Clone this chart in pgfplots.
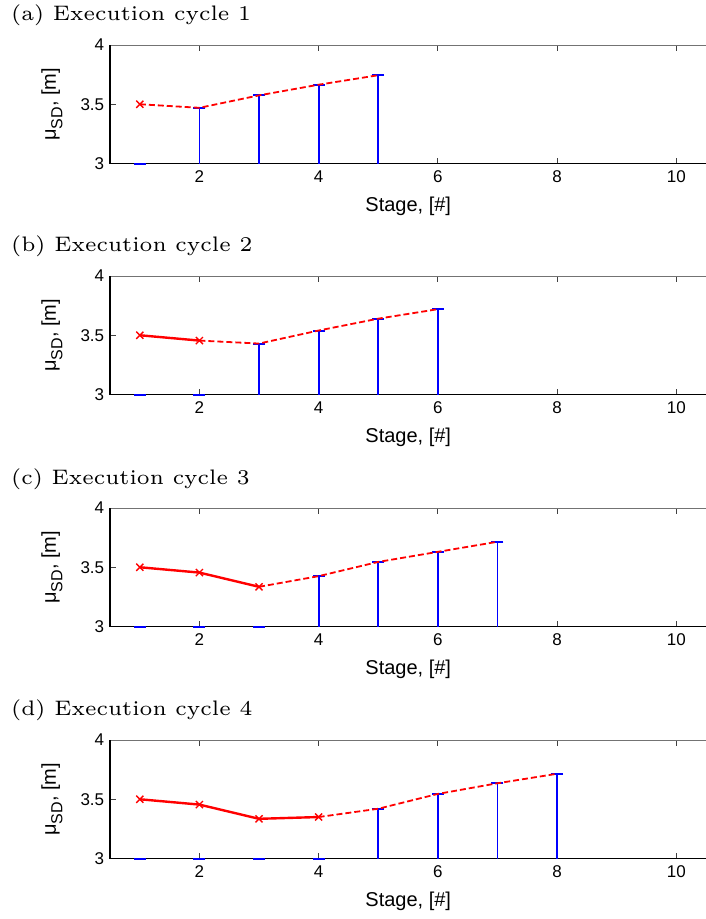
\documentclass[border=0pt]{standalone}
\usepackage{fontspec}
\usepackage{graphicx}
\usepackage{pgfplots}
\usepackage{pgfplotstable}
\pgfplotsset{compat=1.18}
\newfontfamily\hv{Liberation Sans}

% Stage values: executed stages sit at the baseline, planned ones carry the predicted mean
\pgfplotstableread{
stage mu
1 3.000
2 3.470
3 3.575
4 3.665
5 3.745
}\stemA
\pgfplotstableread{
stage mu
1 3.000
2 3.000
3 3.430
4 3.540
5 3.640
6 3.720
}\stemB
\pgfplotstableread{
stage mu
1 3.000
2 3.000
3 3.000
4 3.425
5 3.545
6 3.630
7 3.715
}\stemC
\pgfplotstableread{
stage mu
1 3.000
2 3.000
3 3.000
4 3.000
5 3.420
6 3.545
7 3.635
8 3.715
}\stemD

\definecolor{mred}{RGB}{255,0,0}
\definecolor{mblue}{RGB}{0,0,255}

\tikzset{frame/.style={black, line width=1.7pt}}

\pgfplotsset{
  stagepanel/.style={
    scale only axis, width=605pt, height=118.5pt,
    xmin=0.5, xmax=10.65, ymin=3, ymax=4,
    clip=true, clip mode=individual,
    xtick={2,4,6,8,10}, ytick={3,3.5,4},
    tick align=inside, major tick length=6pt,
    axis line style={draw=black!55, line width=1pt},
    tick style={black!75, line width=0.7pt},
    /pgf/number format/assume math mode=true,
    ticklabel style={font=\hv\fontsize{17}{20}\selectfont},
    xticklabel style={yshift=-4pt},
    yticklabel style={xshift=-2.3pt},
    xlabel={Stage, [\#]},
    ylabel={μ\raisebox{-0.32em}{\fontsize{16}{16}\selectfont SD}, [m]},
    label style={font=\hv\fontsize{20}{24}\selectfont},
    xlabel style={at={(axis description cs:0.493,-0.36)}, anchor=center},
    ylabel style={at={(axis description cs:-0.096,0.5)}, anchor=center},
  },
  stems/.style={ycomb, draw=mblue, line width=1.8pt, mark=-, mark size=6pt,
    mark options={draw=mblue, line width=2pt}},
  done/.style={mred, line width=2.4pt, mark=x, mark size=5pt,
    mark options={line width=1.4pt, solid}},
  plan/.style={mred, line width=1.8pt, dash pattern=on 6pt off 3pt},
}

\newcommand{\paneltitle}[2]{%
  \node[anchor=base west, inner sep=0pt] at (11pt,#1)
    {\scalebox{3.5}{\fontsize{6}{7}\selectfont #2}};}

\begin{document}
\begin{tikzpicture}

% (a)
\paneltitle{-20pt}{(a) Execution cycle 1}
\begin{axis}[stagepanel, at={(110pt,-45pt)}, anchor=north west]
  \draw[frame] (rel axis cs:0,1) -- (rel axis cs:0,0) -- (rel axis cs:1,0);
  \addplot[stems] table[x=stage, y=mu] {\stemA};
  \addplot[plan] coordinates {(1,3.50) (2,3.47) (3,3.575) (4,3.665) (5,3.745)};
  \addplot[done] coordinates {(1,3.50)};
\end{axis}

% (b)
\paneltitle{-251pt}{(b) Execution cycle 2}
\begin{axis}[stagepanel, at={(110pt,-276pt)}, anchor=north west]
  \draw[frame] (rel axis cs:0,1) -- (rel axis cs:0,0) -- (rel axis cs:1,0);
  \addplot[stems] table[x=stage, y=mu] {\stemB};
  \addplot[plan] coordinates {(2,3.455) (3,3.43) (4,3.54) (5,3.64) (6,3.72)};
  \addplot[done] coordinates {(1,3.50) (2,3.455)};
\end{axis}

% (c)
\paneltitle{-484pt}{(c) Execution cycle 3}
\begin{axis}[stagepanel, at={(110pt,-508pt)}, anchor=north west]
  \draw[frame] (rel axis cs:0,1) -- (rel axis cs:0,0) -- (rel axis cs:1,0);
  \addplot[stems] table[x=stage, y=mu] {\stemC};
  \addplot[plan] coordinates {(3,3.335) (4,3.425) (5,3.545) (6,3.63) (7,3.715)};
  \addplot[done] coordinates {(1,3.50) (2,3.455) (3,3.335)};
\end{axis}

% (d)
\paneltitle{-715pt}{(d) Execution cycle 4}
\begin{axis}[stagepanel, at={(110pt,-740pt)}, anchor=north west]
  \draw[frame] (rel axis cs:0,1) -- (rel axis cs:0,0) -- (rel axis cs:1,0);
  \addplot[stems] table[x=stage, y=mu] {\stemD};
  \addplot[plan] coordinates {(4,3.35) (5,3.42) (6,3.545) (7,3.635) (8,3.715)};
  \addplot[done] coordinates {(1,3.50) (2,3.455) (3,3.335) (4,3.35)};
\end{axis}

% fixed page frame; the right edge of the axes runs just past it
\pgfresetboundingbox
\useasboundingbox (0,0) rectangle (705pt,-919pt);
\end{tikzpicture}
\end{document}
